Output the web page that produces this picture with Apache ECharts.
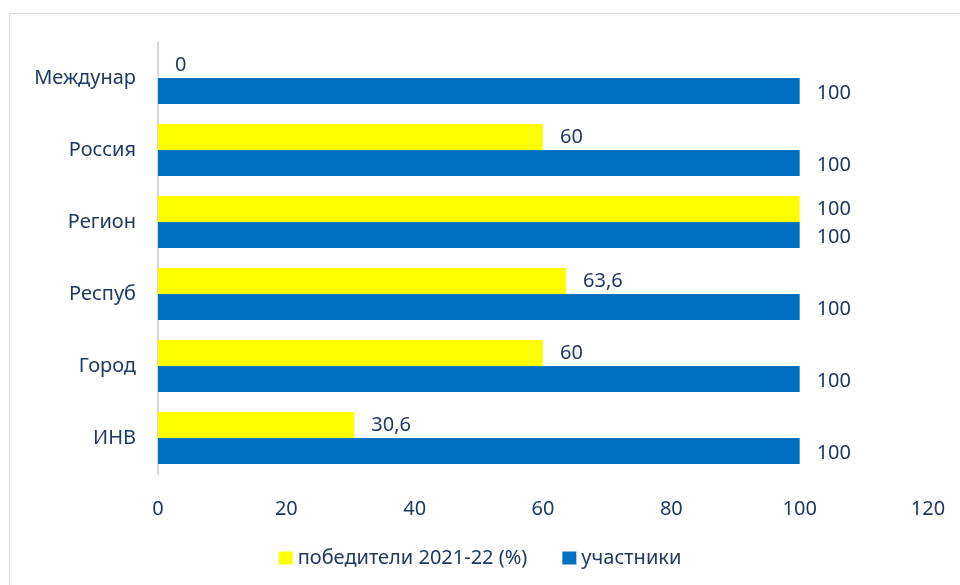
<!DOCTYPE html>
<html><head><meta charset="utf-8">
<script src="https://cdn.jsdelivr.net/npm/echarts@6/dist/echarts.min.js"></script>
<style>html,body{margin:0;padding:0;background:#fff;}#c{width:960px;height:585px;}</style>
</head><body><div id="c"></div>
<script>
const categories = ['ИНВ', 'Город', 'Респуб', 'Регион', 'Россия', 'Междунар'];
const winners = [30.6, 60, 63.6, 100, 60, 0];
const participants = [100, 100, 100, 100, 100, 100];
const xTicks = [0, 20, 40, 60, 80, 100, 120];

const textColor = '#1F3864';
const font = 'Noto Sans';
const fs = 20;
const fmt = p => String(p.value).replace('.', ',');

const chart = echarts.init(document.getElementById('c'), null, {renderer: 'canvas'});
chart.setOption({
  animation: false,
  backgroundColor: '#fff',
  graphic: [{
    type: 'rect', shape: {x: 9.5, y: 13.5, width: 1000, height: 1000},
    style: {fill: 'none', stroke: '#d9d9d9', lineWidth: 1}, silent: true
  }],
  grid: {left: 158, right: 32, top: 42, bottom: 111, containLabel: false},
  legend: {
    bottom: 12, left: 'center', itemWidth: 14, itemHeight: 13, itemGap: 35,
    icon: 'rect',
    textStyle: {color: textColor, fontSize: fs, fontFamily: font},
    data: ['победители 2021-22 (%)', 'участники']
  },
  xAxis: {
    type: 'value', min: 0, max: 120, interval: 20,
    axisLine: {show: false}, axisTick: {show: false}, splitLine: {show: false},
    axisLabel: {color: textColor, fontSize: fs, fontFamily: font, margin: 25,
      customValues: xTicks}
  },
  yAxis: {
    type: 'category', data: categories,
    axisLine: {show: true, lineStyle: {color: '#d9d9d9', width: 2}},
    axisTick: {show: false},
    axisLabel: {color: textColor, fontSize: fs, fontFamily: font, margin: 22}
  },
  series: [
    {
      name: 'победители 2021-22 (%)', type: 'bar', data: winners,
      barWidth: 26, barGap: '0%', barCategoryGap: '28%',
      itemStyle: {color: '#FFFF00'},
      label: {show: true, position: 'right', distance: 17, color: textColor,
        fontSize: fs, fontFamily: font, formatter: fmt}
    },
    {
      name: 'участники', type: 'bar', data: participants,
      barWidth: 26, barGap: '0%',
      itemStyle: {color: '#0070C0'},
      label: {show: true, position: 'right', distance: 17, color: textColor,
        fontSize: fs, fontFamily: font, formatter: fmt, offset: [0, 2]}
    }
  ]
});
</script></body></html>
